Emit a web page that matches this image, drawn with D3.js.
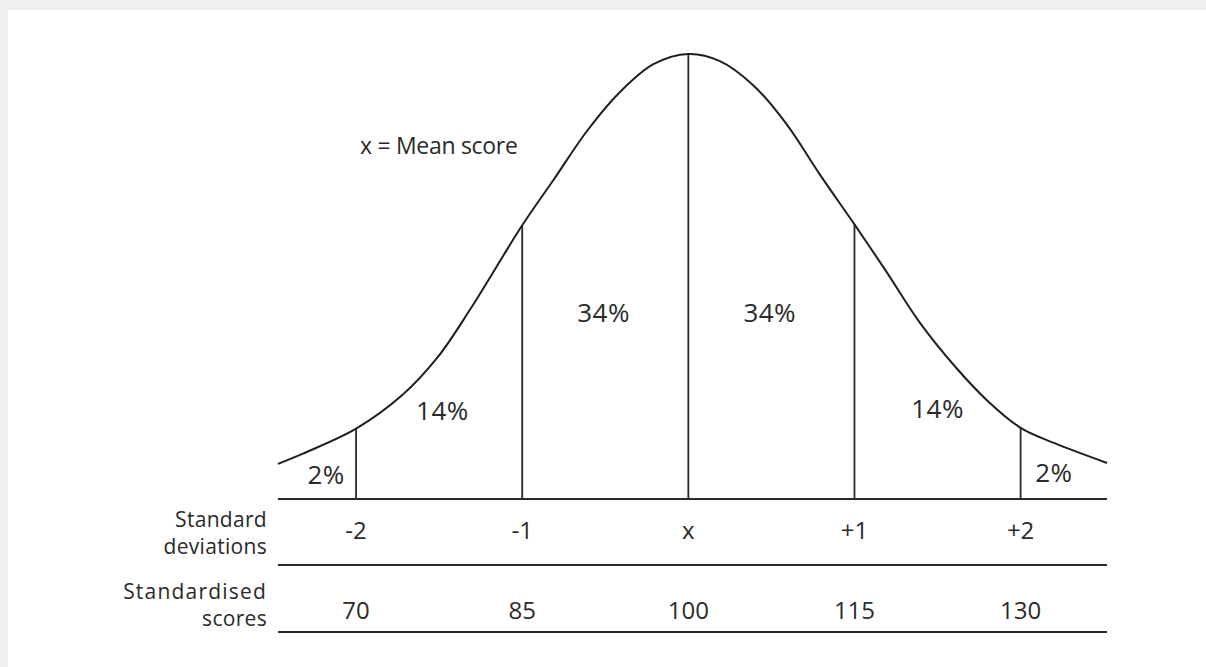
<!DOCTYPE html>
<html>
<head>
<meta charset="utf-8">
<script src="https://cdn.jsdelivr.net/npm/d3@7"></script>
<style>
  html, body { margin: 0; padding: 0; background: #f0f0f0; }
  svg { display: block; }
  text { font-family: "Open Sans", "Noto Sans", sans-serif; fill: #2a2a2a; }
</style>
</head>
<body>
<svg id="chart"></svg>
<script>
// curve: position in standard deviations, height relative to the peak
const curveZ = [-2.47, -2.32, -2.0, -1.72, -1.51, -1.31, -1.0, -0.81, -0.61, -0.41, -0.21, 0,
                0.19, 0.39, 0.59, 0.79, 1.0, 1.19, 1.39, 1.6, 1.8, 2.0, 2.2, 2.52];
const curveH = [0.079, 0.102, 0.158, 0.234, 0.318, 0.428, 0.615, 0.718, 0.827, 0.915, 0.977, 1,
                0.984, 0.930, 0.843, 0.730, 0.617, 0.512, 0.398, 0.300, 0.221, 0.160, 0.126, 0.081];

// divider lines
const sdTicks = [-2, -1, 0, 1, 2];
const dividerH = [0.158, 0.615, 1, 0.617, 0.160];
const sdLabels = ['-2', '-1', 'x', '+1', '+2'];
const scoreLabels = ['70', '85', '100', '115', '130'];

// share of the area between the dividers
const areaLabels = ['2%', '14%', '34%', '34%', '14%', '2%'];

const width = 1206;
const height = 667;

const svg = d3.select('#chart').attr('width', width).attr('height', height);

svg.append('rect')
  .attr('x', 8).attr('y', 10)
  .attr('width', width - 8).attr('height', height - 10)
  .attr('fill', '#fff');

const x = d3.scaleLinear().domain([-2.47, 2.52]).range([278, 1107]);
const y = d3.scaleLinear().domain([0, 1]).range([499, 54]);

const graph = svg.append('g');

// row lines
const rowLines = [499, 565, 632];
graph.selectAll('.row-line')
  .data(rowLines)
  .enter()
  .append('line')
  .attr('class', 'row-line')
  .attr('x1', x(-2.47)).attr('x2', x(2.52))
  .attr('y1', (d) => d).attr('y2', (d) => d)
  .attr('stroke', '#2a2a2a')
  .attr('stroke-width', 2.2);

// dividers
graph.selectAll('.divider')
  .data(sdTicks)
  .enter()
  .append('line')
  .attr('class', 'divider')
  .attr('x1', (d) => x(d)).attr('x2', (d) => x(d))
  .attr('y1', y(0))
  .attr('y2', (d, i) => y(dividerH[i]))
  .attr('stroke', '#2a2a2a')
  .attr('stroke-width', 1.8);

// the bell curve
const line = d3.line()
  .x((d) => x(d[0]))
  .y((d) => y(d[1]))
  .curve(d3.curveCatmullRom.alpha(0.5));

graph.append('path')
  .datum(curveZ.map((z, i) => [z, curveH[i]]))
  .attr('d', line)
  .attr('fill', 'none')
  .attr('stroke', '#1f1f1f')
  .attr('stroke-width', 2);

// percentage labels (centre in sd units, baseline in px)
const areaPos = [[-2.18, 484], [-1.48, 420], [-0.51, 322], [0.49, 322], [1.5, 418], [2.2, 482]];
graph.selectAll('.area-label')
  .data(areaLabels)
  .enter()
  .append('text')
  .attr('class', 'area-label')
  .attr('text-anchor', 'middle')
  .attr('x', (d, i) => x(areaPos[i][0]))
  .attr('y', (d, i) => areaPos[i][1])
  .attr('font-size', 26)
  .attr('letter-spacing', 0.5)
  .text((d) => d);

graph.append('text')
  .attr('x', 360)
  .attr('y', 154)
  .attr('font-size', 23)
  .attr('letter-spacing', -0.3)
  .text('x = Mean score');

// rows under the curve
graph.selectAll('.sd-label')
  .data(sdLabels)
  .enter()
  .append('text')
  .attr('class', 'sd-label')
  .attr('text-anchor', 'middle')
  .attr('x', (d, i) => x(sdTicks[i]))
  .attr('y', 539)
  .attr('font-size', 24)
  .text((d) => d);

graph.selectAll('.score-label')
  .data(scoreLabels)
  .enter()
  .append('text')
  .attr('class', 'score-label')
  .attr('text-anchor', 'middle')
  .attr('x', (d, i) => x(sdTicks[i]))
  .attr('y', 619)
  .attr('font-size', 24)
  .text((d) => d);

// row titles, two lines each
const rowTitles = [
  { lines: ['Standard', 'deviations'], y: 527, spacing: [0.3, 0.3] },
  { lines: ['Standardised', 'scores'], y: 599, spacing: [1.2, 0.3] }
];
const titles = graph.selectAll('.row-title')
  .data(rowTitles)
  .enter()
  .append('text')
  .attr('class', 'row-title')
  .attr('text-anchor', 'end')
  .attr('font-size', 21)
  .attr('y', (d) => d.y);

titles.selectAll('tspan')
  .data((d) => d.lines.map((t, i) => ({ t, i, ls: d.spacing[i] })))
  .enter()
  .append('tspan')
  .attr('x', 267)
  .attr('dy', (d) => (d.i === 0 ? 0 : 27))
  .attr('letter-spacing', (d) => d.ls)
  .text((d) => d.t);
</script>
</body>
</html>
